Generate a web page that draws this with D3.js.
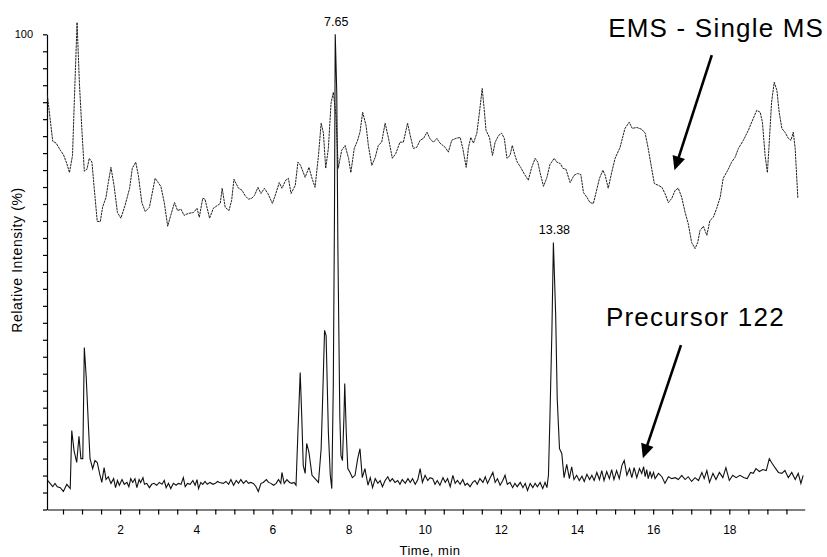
<!DOCTYPE html>
<html><head><meta charset="utf-8">
<script src="https://cdn.jsdelivr.net/npm/d3@7"></script>
<style>
body{margin:0;background:#fff}
svg{display:block}
text{font-family:Arial,"Liberation Sans",Helvetica,sans-serif;fill:#000}
</style>
</head><body>
<svg id="chart" width="827" height="557"></svg>
<script>
// ---------- data ----------
const emsTime = [0.09,0.23,0.32,0.43,0.51,0.60,0.67,0.75,0.80,0.87,0.93,1.00,1.06,1.13,1.19,1.26,1.32,1.40,1.48,1.54,
1.63,1.69,1.76,1.84,1.93,2.02,2.13,2.25,2.32,2.41,2.48,2.57,2.66,2.77,2.92,3.07,3.16,3.25,3.33,3.43,
3.51,3.60,3.68,3.79,3.93,4.02,4.08,4.17,4.23,4.35,4.45,4.56,4.63,4.68,4.76,4.86,4.93,4.99,
5.11,5.20,5.28,5.37,5.46,5.53,5.62,5.70,5.79,5.88,6.00,6.09,6.18,6.25,6.35,6.42,6.49,6.60,6.67,6.74,
6.86,6.96,7.04,7.12,7.21,7.28,7.34,7.40,7.47,7.54,7.60,7.67,7.73,7.82,7.91,8.00,8.06,8.15,8.23,8.30,
8.37,8.46,8.52,8.61,8.70,8.78,8.87,8.96,9.05,9.15,9.24,9.35,9.44,9.55,9.62,9.70,9.79,9.88,9.97,10.06,
10.14,10.23,10.32,10.40,10.54,10.62,10.71,10.82,10.93,11.00,11.09,11.15,11.21,11.28,11.37,11.45,11.51,11.56,11.61,11.70,
11.78,11.85,11.94,12.02,12.09,12.16,12.24,12.30,12.37,12.43,12.52,12.61,12.72,12.81,12.90,12.97,13.03,13.12,13.21,13.29,
13.40,13.47,13.56,13.63,13.71,13.82,13.92,14.01,14.10,14.17,14.26,14.34,14.43,14.50,14.59,14.68,14.74,14.82,14.91,15.00,15.13,
15.26,15.37,15.45,15.57,15.70,15.79,15.87,15.96,16.03,16.14,16.23,16.31,16.40,16.49,16.58,16.66,16.75,16.84,16.92,17.01,
17.10,17.17,17.23,17.32,17.41,17.49,17.58,17.67,17.76,17.84,17.96,18.06,18.15,18.24,18.37,18.50,18.63,18.72,18.81,18.87,
18.94,19.00,19.04,19.11,19.18,19.25,19.31,19.38,19.46,19.55,19.62,19.68,19.73,19.80];
const emsValue = [87.2,77.5,77.1,75.6,74.7,72.8,70.9,74.5,86.5,102.5,89.9,79.4,71.2,71.6,73.9,73.1,67.6,60.6,60.6,63.6,
65.7,68.8,72.0,68.2,62.5,61.3,64.0,67.6,71.8,73.1,70.3,64.6,62.7,63.6,69.7,68.0,64.6,59.6,61.9,64.6,
62.9,63.2,61.9,62.3,62.5,63.4,61.5,65.5,65.3,61.3,63.4,64.0,64.4,67.6,63.6,62.9,65.1,69.5,
67.6,67.2,66.1,65.3,65.5,66.1,67.8,66.5,67.6,66.5,64.4,66.5,68.8,67.6,69.3,69.7,66.5,68.2,73.1,72.4,
69.9,72.0,69.7,67.8,74.5,81.3,79.2,71.8,76.0,85.5,87.8,82.9,71.8,75.6,76.6,73.9,70.9,76.0,77.5,79.4,
83.6,80.8,76.6,72.4,74.1,76.6,77.3,81.3,78.1,73.9,74.9,77.3,77.3,81.3,78.7,76.0,76.2,77.7,78.1,79.4,
78.0,77.3,78.1,77.1,76.2,75.2,77.7,78.1,78.3,76.0,72.0,76.2,78.3,77.1,79.2,84.4,88.6,84.4,79.8,78.3,
74.5,77.3,78.7,79.2,78.1,73.9,74.5,76.6,74.5,73.1,72.0,70.7,69.3,72.0,73.9,73.1,70.9,68.0,69.9,72.6,
73.9,73.1,72.8,71.8,71.6,68.8,70.3,70.7,70.5,66.7,65.7,64.6,64.4,66.7,69.7,71.4,70.3,67.6,70.9,73.9,76.2,
80.2,81.5,80.2,80.4,80.0,79.2,76.0,71.8,68.6,68.2,67.8,66.5,64.6,65.5,67.2,67.6,65.7,62.5,60.2,56.2,
54.9,56.2,58.7,59.6,57.7,60.8,61.5,63.4,65.7,69.7,71.4,73.1,74.1,76.0,77.7,79.8,82.3,84.0,83.6,81.5,
74.5,70.9,76.0,85.7,89.9,88.2,83.6,80.2,79.4,78.1,77.7,79.4,76.0,65.5];

const precTime = [0.10,0.16,0.23,0.29,0.35,0.43,0.51,0.60,0.69,0.73,0.79,0.86,0.92,0.97,1.02,1.06,1.11,1.17,1.21,1.28,
1.34,1.40,1.46,1.52,1.58,1.63,1.69,1.76,1.83,1.88,1.93,1.98,2.05,2.11,2.18,2.23,2.28,2.33,2.39,2.44,
2.50,2.54,2.60,2.64,2.70,2.77,2.83,2.89,2.96,3.03,3.10,3.16,3.21,3.27,3.33,3.40,3.47,3.53,3.60,3.66,
3.71,3.77,3.84,3.91,3.97,4.02,4.06,4.12,4.17,4.23,4.29,4.36,4.44,4.50,4.56,4.61,4.71,4.78,4.85,4.91,
4.98,5.05,5.11,5.17,5.24,5.31,5.37,5.43,5.50,5.57,5.63,5.70,5.76,5.84,5.90,5.96,6.03,6.10,6.16,6.22,
6.25,6.31,6.38,6.45,6.51,6.57,6.62,6.67,6.73,6.77,6.81,6.86,6.90,6.96,7.04,7.12,7.21,7.28,7.32,7.37,
7.41,7.47,7.52,7.56,7.60,7.63,7.65,7.69,7.72,7.77,7.80,7.84,7.88,7.90,7.94,7.98,8.04,8.10,8.17,8.24,
8.30,8.36,8.43,8.51,8.57,8.63,8.70,8.77,8.83,8.89,8.96,9.03,9.09,9.15,9.22,9.29,9.35,9.41,9.49,9.56,
9.62,9.68,9.75,9.82,9.88,9.94,10.01,10.08,10.14,10.21,10.27,10.33,10.40,10.48,10.54,10.60,10.67,10.74,10.80,10.86,
10.93,11.00,11.06,11.12,11.19,11.26,11.32,11.38,11.45,11.53,11.59,11.65,11.72,11.79,11.85,11.91,11.98,12.05,12.11,12.17,
12.24,12.31,12.37,12.43,12.51,12.58,12.64,12.70,12.77,12.84,12.90,12.96,13.03,13.10,13.16,13.21,13.25,13.29,13.34,13.38,
13.44,13.48,13.54,13.60,13.66,13.73,13.80,13.86,13.92,13.99,14.06,14.13,14.19,14.26,14.33,14.39,14.45,14.52,14.59,14.65,
14.71,14.78,14.85,14.91,14.97,15.04,15.11,15.18,15.24,15.31,15.38,15.44,15.50,15.57,15.64,15.70,15.75,15.79,15.83,15.87,
15.92,15.96,16.01,16.05,16.14,16.23,16.31,16.40,16.49,16.58,16.66,16.75,16.84,16.92,17.01,17.10,17.19,17.28,17.34,17.41,
17.48,17.57,17.65,17.74,17.83,17.91,18.00,18.09,18.18,18.28,18.39,18.47,18.56,18.63,18.70,18.79,18.88,18.97,19.05,19.11,
19.20,19.29,19.38,19.46,19.55,19.64,19.73,19.81,19.88,19.94];
const precValue = [6.1,5.5,4.8,5.5,4.8,4.6,3.8,5.3,4.4,16.6,12.4,9.9,15.4,10.7,10.7,34.1,27.8,17.3,10.7,8.6,
10.3,9.9,7.6,5.7,8.8,6.3,6.9,5.5,6.5,4.6,6.1,5.1,6.3,5.3,5.7,4.8,6.5,5.7,6.5,4.6,
6.3,5.7,6.7,5.3,5.5,4.6,5.3,5.5,5.1,5.7,5.3,6.1,4.6,5.5,4.4,5.5,5.1,5.5,5.3,6.7,
4.8,5.5,5.3,6.1,5.1,6.3,4.4,5.7,5.3,5.9,5.3,5.7,5.3,5.5,5.9,5.7,5.5,5.9,5.3,6.3,
5.1,6.1,5.5,6.3,5.5,6.1,5.5,5.7,5.5,4.8,3.8,5.5,5.7,6.3,5.7,5.5,5.1,5.5,6.3,5.5,
7.8,5.5,6.3,5.7,5.5,5.7,5.1,16.2,28.8,19.8,9.3,7.6,13.9,12.0,7.2,6.5,5.7,12.8,23.4,37.7,
36.6,16.2,7.2,4.4,26.7,61.9,100,87.8,54.9,19.8,11.4,10.3,19.8,26.5,16.2,8.6,7.8,6.7,7.2,10.7,
12.8,6.7,8.6,5.1,6.7,4.6,6.5,5.5,6.1,4.8,6.1,6.9,5.9,6.5,5.7,6.1,5.3,6.3,5.5,6.5,
5.7,6.5,5.3,6.3,8.6,5.7,7.2,6.1,6.7,6.5,5.3,6.1,5.1,6.7,5.7,6.5,4.8,7.2,5.5,6.1,
5.3,6.3,5.1,5.5,4.8,5.7,6.1,5.3,6.5,5.7,6.9,5.5,6.7,7.8,5.7,6.5,5.1,6.1,7.2,5.3,
5.7,4.6,5.5,4.8,5.7,4.6,5.5,4.0,5.5,4.6,5.5,4.8,5.7,4.4,5.7,4.6,7.2,19.8,37.3,56.2,
40.8,23.4,12.8,11.8,6.7,9.5,6.5,9.0,6.3,7.2,6.1,7.0,5.9,7.4,6.3,7.2,6.1,7.8,6.3,8.2,
6.1,8.0,6.5,8.4,6.3,8.2,6.5,9.3,10.3,7.2,8.6,6.7,8.8,6.7,8.6,7.6,9.0,6.9,8.4,6.5,
8.0,6.7,7.8,6.5,7.6,6.9,5.5,6.9,6.5,6.7,6.3,7.2,6.3,6.9,5.9,6.7,6.1,7.8,6.5,8.2,
5.7,7.6,6.3,7.8,6.7,8.8,6.1,7.2,6.7,7.2,6.7,6.5,7.8,7.6,8.6,8.0,8.4,8.2,10.7,9.9,
8.8,7.8,7.6,8.2,6.7,7.8,6.3,7.6,5.5,7.2];

const xTickValues = [0.5,1,1.5,2,2.5,3,3.5,4,4.5,5,5.5,6,6.5,7,7.5,8,8.5,9,9.5,10,
10.5,11,11.5,12,12.5,13,13.5,14,14.5,15,15.5,16,16.5,17,17.5,18,18.5,19,19.5];
const xTickLabels = [2,4,6,8,10,12,14,16,18];
const yTickLabels = [100];
const peakTimes = [7.65, 13.38];
const peakValues = [100, 56.2];
const peakLabels = ["7.65", "13.38"];
const seriesNames = ["EMS - Single MS", "Precursor 122"];
const xTitle = "Time, min";
const yTitle = "Relative Intensity (%)";

// ---------- scales ----------
const svg = d3.select("#chart");
const x = d3.scaleLinear().domain([0.08, 19.98]).range([47, 804.7]);
const y = d3.scaleLinear().domain([0, 100]).range([509.5, 34.3]);

// y ticks every 1/28 of full scale
const yTickValues = d3.range(0, 29).map(i => i * 100 / 28);

// ---------- axes ----------
const xAxis = d3.axisBottom(x).tickValues(xTickValues).tickSize(5).tickSizeOuter(0).tickPadding(11)
  .tickFormat(d => xTickLabels.includes(d) ? String(d) : "");
const gx = svg.append("g").attr("transform", "translate(0,509.5)").call(xAxis);
gx.selectAll("text").attr("font-size", 12).attr("font-family", "Arial, 'Liberation Sans', sans-serif");
gx.selectAll("path,line").attr("stroke", "#000").attr("stroke-width", 1.2);

const yAxis = d3.axisLeft(y).tickValues(yTickValues).tickSize(4).tickSizeOuter(0).tickPadding(10)
  .tickFormat(d => yTickLabels.includes(Math.round(d * 1000) / 1000) ? String(Math.round(d)) : "");
const gy = svg.append("g").attr("transform", "translate(47,0)").call(yAxis);
gy.selectAll("text").attr("font-size", 11).attr("font-family", "Arial, 'Liberation Sans', sans-serif");
gy.selectAll("path,line").attr("stroke", "#000").attr("stroke-width", 1.2);

// axis titles
svg.append("text").attr("x", 430).attr("y", 554.5).attr("text-anchor", "middle")
  .attr("font-size", 13).attr("letter-spacing", 0.5).text(xTitle);
svg.append("text").attr("transform", "translate(22,260) rotate(-90)").attr("text-anchor", "middle")
  .attr("font-size", 14).attr("letter-spacing", 0.6).text(yTitle);

// ---------- traces ----------
const line = d3.line().x(d => x(d[0])).y(d => y(d[1]));
const emsData = emsTime.map((t, i) => [t, emsValue[i]]);
const precData = precTime.map((t, i) => [t, precValue[i]]);

svg.append("path").datum(emsData).attr("d", line)
  .attr("fill", "none").attr("stroke", "#222").attr("stroke-width", 1)
  .attr("stroke-dasharray", "2.5,0.7");
svg.append("path").datum(precData).attr("d", line)
  .attr("fill", "none").attr("stroke", "#111").attr("stroke-width", 1.1);

// peak labels
peakTimes.forEach((t, i) => {
  svg.append("text").attr("x", x(t) + 1).attr("y", y(peakValues[i]) - 8)
    .attr("text-anchor", "middle").attr("font-size", 12.5).text(peakLabels[i]);
});

// ---------- annotations ----------
const annot = [
  {text: seriesNames[0], tx: 14.82, tv: 99.4, from: [17.54, 95.6], to: [16.56, 71.4]},
  {text: seriesNames[1], tx: 14.76, tv: 38.7, from: [16.73, 34.6], to: [15.73, 10.8]}
];
annot.forEach(a => {
  svg.append("text").attr("x", x(a.tx)).attr("y", y(a.tv))
    .attr("font-size", 26).attr("letter-spacing", 1.2).text(a.text);
  const x1 = x(a.from[0]), y1 = y(a.from[1]), x2 = x(a.to[0]), y2 = y(a.to[1]);
  const dx = x2 - x1, dy = y2 - y1, L = Math.hypot(dx, dy), ux = dx / L, uy = dy / L;
  const hl = 14, hw = 6.5;
  const bx = x2 - ux * hl, by = y2 - uy * hl;
  svg.append("line").attr("x1", x1).attr("y1", y1).attr("x2", bx + ux * 2).attr("y2", by + uy * 2)
    .attr("stroke", "#000").attr("stroke-width", 2.6);
  svg.append("path").attr("d", `M${x2},${y2}L${bx - uy * hw},${by + ux * hw}L${bx + uy * hw},${by - ux * hw}Z`)
    .attr("fill", "#000");
});
</script>
</body></html>
